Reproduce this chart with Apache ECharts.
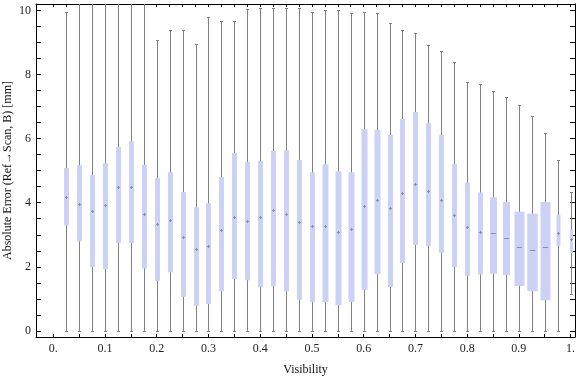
<!DOCTYPE html>
<html>
<head>
<meta charset="utf-8">
<script src="https://cdn.jsdelivr.net/npm/echarts@6/dist/echarts.min.js"></script>
<style>
  html, body { margin: 0; padding: 0; background: #fff; }
  #chart { width: 576px; height: 377px; }
</style>
</head>
<body>
<div id="chart"></div>
<script>
// visibility bins (box centres)
var visibility = [0.025, 0.05, 0.075, 0.1, 0.125, 0.15, 0.175, 0.2, 0.225, 0.25,
    0.275, 0.3, 0.325, 0.35, 0.375, 0.4, 0.425, 0.45, 0.475, 0.5,
    0.525, 0.55, 0.575, 0.6, 0.625, 0.65, 0.675, 0.7, 0.725, 0.75,
    0.775, 0.8, 0.825, 0.85, 0.875, 0.9, 0.925, 0.95, 0.975, 1.0];
// whisker ends (bins 2-7 run past the top of the plot range)
var whiskerLow = [0, 0, 0, 0, 0, 0, 0, 0, 0, 0,
    0, 0, 0, 0, 0, 0, 0, 0, 0, 0,
    0, 0, 0, 0, 0, 0, 0, 0, 0, 0,
    0, 0, 0, 0, 0, 0, 0, 0, 0, 1.16];
var whiskerHigh = [9.94, 10.6, 10.6, 10.6, 10.6, 10.6, 10.6, 9.07, 9.38, 9.38,
    8.95, 9.80, 9.66, 9.66, 10.04, 10.07, 10.07, 10.07, 10.07, 9.94,
    10.0, 10.0, 9.91, 9.94, 9.91, 9.6, 9.38, 9.29, 8.91, 8.72,
    8.38, 7.76, 7.69, 7.47, 7.29, 7.04, 6.69, 6.16, 5.32, 4.32];
var q1 = [3.29, 2.79, 1.99, 1.93, 2.74, 2.74, 1.95, 1.56, 1.83, 1.06,
    0.78, 0.84, 1.24, 1.62, 1.58, 1.36, 1.40, 1.24, 0.97, 0.90,
    0.90, 0.80, 0.90, 1.28, 1.77, 1.37, 2.12, 2.68, 2.65, 2.44,
    1.99, 1.72, 1.76, 1.78, 1.74, 1.40, 1.24, 0.96, 2.65, 2.43];
var median = [4.19, 3.96, 3.73, 3.93, 4.48, 4.48, 3.65, 3.33, 3.45, 2.94,
    2.55, 2.66, 3.15, 3.55, 3.43, 3.54, 3.78, 3.65, 3.40, 3.28,
    3.26, 3.10, 3.19, 3.89, 4.07, 3.82, 4.31, 4.58, 4.37, 4.07,
    3.61, 3.24, 3.10, 3.04, 2.90, 2.62, 2.53, 2.63, 3.05, 2.88];
var q3 = [5.08, 5.17, 4.86, 5.23, 5.74, 5.92, 5.18, 4.77, 4.95, 4.33,
    3.86, 3.98, 4.80, 5.55, 5.27, 5.30, 5.61, 5.64, 5.33, 4.95,
    5.20, 4.98, 4.95, 6.30, 6.27, 6.11, 6.61, 6.83, 6.48, 6.11,
    5.20, 4.63, 4.32, 4.17, 4.02, 3.72, 3.66, 4.02, 3.61, 3.17];

// tick positions and labels
var xLabelTicks = [0, 0.1, 0.2, 0.3, 0.4, 0.5, 0.6, 0.7, 0.8, 0.9, 1];
var xLabelText = ['0.', '0.1', '0.2', '0.3', '0.4', '0.5', '0.6', '0.7', '0.8', '0.9', '1.'];
var yLabelTicks = [0, 2, 4, 6, 8, 10];

// style: box widths in px (the reference draws some bins wider)
var boxWidths = [5, 5, 5, 5, 5, 5, 5, 5, 5, 5,
    5, 5, 5, 5, 5, 5, 5, 5, 5, 5,
    6, 6, 6, 6, 6, 5, 5, 5, 5, 5,
    5, 5, 5, 7, 7, 10, 10.5, 10, 4, 3];

var steps = function (from, to, step) {
    var out = [];
    var n = Math.round((to - from) / step);
    for (var i = 0; i <= n; i++) out.push(+(from + i * step).toFixed(4));
    return out;
};

var seriesData = visibility.map(function (v, i) {
    return [v, whiskerLow[i], q1[i], median[i], q3[i], whiskerHigh[i]];
});

var font = 'Liberation Serif';
var dom = document.getElementById('chart');
var myChart = echarts.init(dom, null, { renderer: 'canvas' });

var option = {
    animation: false,
    grid: { left: 36, right: 1, top: 4, bottom: 40, outerBoundsMode: 'none', containLabel: false },
    xAxis: [{
        type: 'value',
        position: 'bottom',
        min: -0.0334,
        max: 1.0085,
        name: 'Visibility',
        nameLocation: 'middle',
        nameGap: 27,
        nameTextStyle: { fontFamily: font, fontSize: 12, color: '#111' },
        axisLine: { onZero: false, lineStyle: { color: '#000', width: 1 } },
        axisTick: { inside: true, length: 3, customValues: steps(0, 1, 0.05), lineStyle: { color: '#000' } },
        axisLabel: {
            customValues: xLabelTicks,
            margin: 6,
            fontFamily: font, fontSize: 12, color: '#222',
            formatter: function (val) {
                var k = xLabelTicks.findIndex(function (t) { return Math.abs(t - val) < 1e-6; });
                return k >= 0 ? xLabelText[k] : '';
            }
        },
        splitLine: { show: false }
    }, {
        type: 'value',
        position: 'top',
        min: -0.0334,
        max: 1.0085,
        axisLine: { onZero: false, lineStyle: { color: '#000', width: 1 } },
        axisTick: { inside: true, length: 3, customValues: steps(0, 1, 0.025), lineStyle: { color: '#000' } },
        axisLabel: { show: false },
        splitLine: { show: false }
    }],
    yAxis: [{
        type: 'value',
        position: 'left',
        min: -0.19,
        max: 10.2,
        name: 'Absolute Error (Ref\u2192Scan, B) [mm]',
        nameLocation: 'middle',
        nameGap: 22,
        nameMoveOverlap: false,
        nameRotate: 90,
        nameTextStyle: { fontFamily: font, fontSize: 12, color: '#111' },
        axisLine: { onZero: false, lineStyle: { color: '#000', width: 1 } },
        axisTick: { inside: true, length: 5, customValues: steps(0, 10, 0.5), lineStyle: { color: '#000' } },
        axisLabel: { customValues: yLabelTicks, margin: 5, fontFamily: font, fontSize: 12, color: '#222' },
        splitLine: { show: false }
    }, {
        type: 'value',
        position: 'right',
        min: -0.19,
        max: 10.2,
        axisLine: { onZero: false, lineStyle: { color: '#000', width: 1 } },
        axisTick: { inside: true, length: 5, customValues: steps(0, 10, 0.5), lineStyle: { color: '#000' } },
        axisLabel: { show: false },
        splitLine: { show: false }
    }],
    series: [{
        type: 'custom',
        xAxisIndex: 0,
        yAxisIndex: 0,
        data: seriesData,
        renderItem: function (params, api) {
            var x = api.value(0);
            var lo = api.coord([x, api.value(1)]);
            var b1 = api.coord([x, api.value(2)]);
            var md = api.coord([x, api.value(3)]);
            var b3 = api.coord([x, api.value(4)]);
            var hi = api.coord([x, api.value(5)]);
            var top = params.coordSys.y;
            var clipped = hi[1] < top;
            var hiY = Math.max(hi[1], top);
            var cx = Math.round(lo[0]) + 0.5;
            var w = boxWidths[params.dataIndex];
            var grey = '#808080';
            var kids = [
                { type: 'line', shape: { x1: cx, y1: lo[1], x2: cx, y2: hiY }, style: { stroke: grey, lineWidth: 1 } },
                { type: 'line', shape: { x1: cx - 1.5, y1: Math.round(lo[1]) + 0.5, x2: cx + 1.5, y2: Math.round(lo[1]) + 0.5 }, style: { stroke: grey, lineWidth: 1 } },
                { type: 'rect', shape: { x: cx - w / 2, y: b3[1], width: w, height: b1[1] - b3[1] }, style: { fill: '#cbd2f5' } }
            ];
            if (!clipped) {
                kids.push({ type: 'line', shape: { x1: cx - 1.5, y1: Math.round(hi[1]) + 0.5, x2: cx + 1.5, y2: Math.round(hi[1]) + 0.5 }, style: { stroke: grey, lineWidth: 1 } });
            }
            var my = Math.round(md[1]) + 0.5;
            if (w >= 7) {
                kids.push({ type: 'line', shape: { x1: cx - 2.5, y1: my, x2: cx + 2.5, y2: my }, style: { stroke: '#8a8fa6', lineWidth: 1 } });
            } else {
                kids.push({ type: 'line', shape: { x1: cx - 1.5, y1: my, x2: cx + 1.5, y2: my }, style: { stroke: '#8a8fa6', lineWidth: 1 } });
                kids.push({ type: 'line', shape: { x1: cx, y1: my - 1.5, x2: cx, y2: my + 1.5 }, style: { stroke: '#8a8fa6', lineWidth: 1 } });
            }
            return { type: 'group', children: kids };
        }
    }]
};

myChart.setOption(option);
</script>
</body>
</html>
